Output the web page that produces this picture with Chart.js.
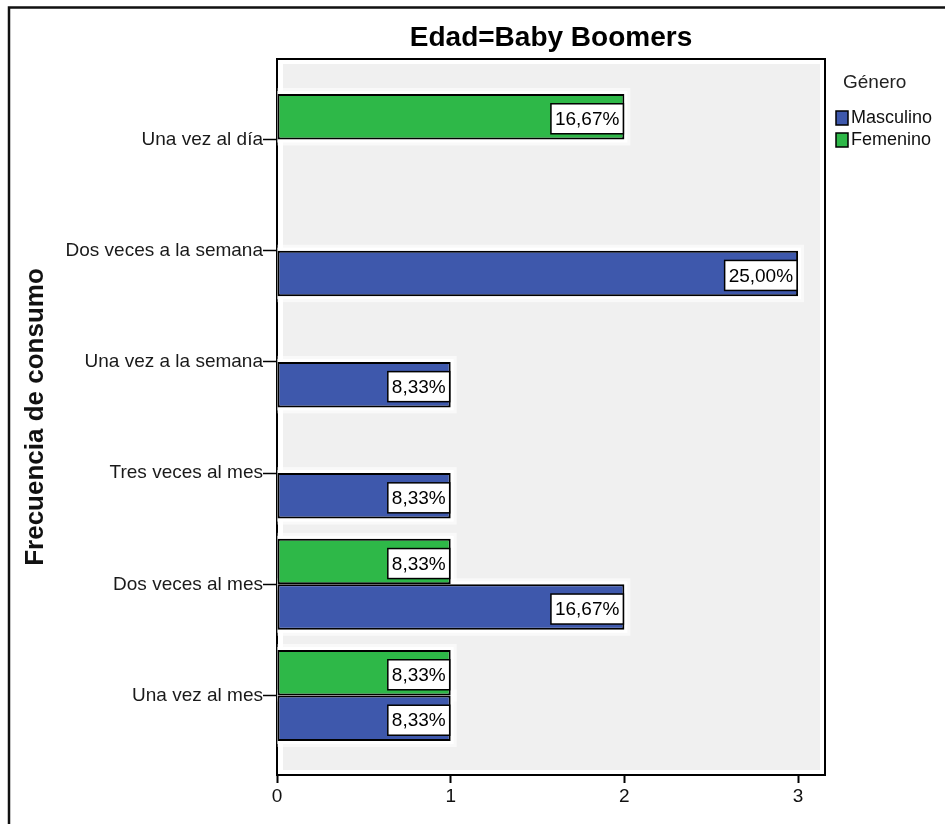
<!DOCTYPE html>
<html>
<head>
<meta charset="utf-8">
<title>Frecuencia de consumo - Baby Boomers</title>
<script src="https://cdn.jsdelivr.net/npm/chart.js@4.4.1/dist/chart.umd.min.js"></script>
<style>
  html, body { margin: 0; padding: 0; background: #fff; }
  #wrap { width: 945px; height: 824px; }
</style>
</head>
<body>
<div id="wrap"><canvas id="freqChart" width="945" height="824"></canvas></div>
<script>
  // categorias (de arriba hacia abajo)
  var categories = [
    "Una vez al día",
    "Dos veces a la semana",
    "Una vez a la semana",
    "Tres veces al mes",
    "Dos veces al mes",
    "Una vez al mes"
  ];
  // recuentos por genero
  var femenino = [2, 0, 0, 0, 1, 1];
  var masculino = [0, 3, 1, 1, 2, 1];
  var xTicks = [0, 1, 2, 3];

  var FONT = "'Liberation Sans', Arial, sans-serif";
  var AZUL = "#3E58AC";
  var VERDE = "#2EB848";

  var total = femenino.concat(masculino).reduce(function (a, b) { return a + b; }, 0);

  function pct(v) {
    return (v / total * 100).toFixed(2).replace(".", ",") + "%";
  }

  function toPoints(arr) {
    return arr.map(function (v, i) { return { x: v, y: i }; });
  }

  function eachBar(chart, fn) {
    chart.data.datasets.forEach(function (ds, di) {
      var meta = chart.getDatasetMeta(di);
      meta.data.forEach(function (el, i) {
        var v = ds.data[i].x;
        if (!v) return;
        fn(el.getProps(["x", "y", "base", "height"], true), v, ds);
      });
    });
  }

  // fondo gris, marco y halo blanco de las barras
  var panelPlugin = {
    id: "panel",
    beforeDraw: function (chart) {
      var ctx = chart.ctx, a = chart.chartArea;
      ctx.save();
      ctx.strokeStyle = "#111";
      ctx.lineWidth = 2.5;
      ctx.beginPath();
      ctx.moveTo(9, 824);
      ctx.lineTo(9, 7.5);
      ctx.lineTo(945, 7.5);
      ctx.stroke();
      ctx.fillStyle = "#f0f0f0";
      ctx.fillRect(a.left + 6, a.top + 5, a.width - 11, a.height - 10);
      ctx.restore();
    },
    beforeDatasetsDraw: function (chart) {
      var ctx = chart.ctx;
      ctx.save();
      eachBar(chart, function (b) {
        var top = b.y - b.height / 2;
        ctx.fillStyle = "rgba(255,255,255,0.6)";
        ctx.fillRect(b.base, top - 6, b.x - b.base + 6, b.height + 12);
        ctx.fillStyle = "#fff";
        ctx.fillRect(b.base, top - 3, b.x - b.base + 3, b.height + 6);
      });
      ctx.restore();
    },
    afterDatasetsDraw: function (chart) {
      var ctx = chart.ctx, a = chart.chartArea;
      ctx.save();
      // lados superior y derecho del panel
      ctx.strokeStyle = "#000";
      ctx.lineWidth = 2;
      ctx.beginPath();
      ctx.moveTo(a.left, a.top);
      ctx.lineTo(a.right, a.top);
      ctx.lineTo(a.right, a.bottom);
      ctx.stroke();

      // etiquetas de porcentaje
      ctx.font = "19px " + FONT;
      ctx.textAlign = "right";
      ctx.textBaseline = "middle";
      eachBar(chart, function (b, v) {
        var txt = pct(v);
        var w = ctx.measureText(txt).width + 8;
        var h = 30;
        var right = b.x - 1;
        var top = b.y - h / 2 + 2;
        ctx.fillStyle = "#fff";
        ctx.fillRect(right - w, top, w, h);
        ctx.strokeStyle = "#000";
        ctx.lineWidth = 1.5;
        ctx.strokeRect(right - w, top, w, h);
        ctx.fillStyle = "#000";
        ctx.fillText(txt, right - 4, top + h / 2 + 1);
      });
      ctx.restore();
    },
    afterDraw: function (chart) {
      // leyenda
      var ctx = chart.ctx;
      ctx.save();
      ctx.textBaseline = "middle";
      ctx.textAlign = "left";
      ctx.fillStyle = "#222";
      ctx.font = "19px " + FONT;
      ctx.fillText("Género", 843, 83);
      ctx.font = "18px " + FONT;
      var items = [
        { label: chart.data.datasets[1].label, color: chart.data.datasets[1].backgroundColor },
        { label: chart.data.datasets[0].label, color: chart.data.datasets[0].backgroundColor }
      ];
      items.forEach(function (it, i) {
        var y = 111 + i * 22;
        ctx.fillStyle = it.color;
        ctx.fillRect(836, y, 12, 14);
        ctx.strokeStyle = "#000";
        ctx.lineWidth = 1.5;
        ctx.strokeRect(836, y, 12, 14);
        ctx.fillStyle = "#111";
        ctx.fillText(it.label, 851, y + 7);
      });
      ctx.restore();
    }
  };

  Chart.defaults.font.family = FONT;

  var ctx = document.getElementById("freqChart").getContext("2d");
  var chart = new Chart(ctx, {
    type: "bar",
    data: {
      datasets: [
        {
          label: "Femenino",
          data: toPoints(femenino),
          backgroundColor: VERDE,
          borderColor: "#000",
          borderWidth: 2,
          borderSkipped: false
        },
        {
          label: "Masculino",
          data: toPoints(masculino),
          backgroundColor: AZUL,
          borderColor: "#000",
          borderWidth: 2,
          borderSkipped: false
        }
      ]
    },
    options: {
      indexAxis: "y",
      responsive: false,
      animation: false,
      datasets: { bar: { categoryPercentage: 0.818, barPercentage: 1 } },
      layout: { padding: { left: 14, right: 120, top: 0, bottom: 0 } },
      plugins: {
        legend: { display: false },
        tooltip: { enabled: false },
        title: {
          display: true,
          text: "Edad=Baby Boomers",
          fullSize: false,
          color: "#000",
          font: { size: 28, weight: "bold" },
          padding: { top: 21, bottom: 4.4 }
        }
      },
      scales: {
        x: {
          type: "linear",
          min: 0,
          max: 3.155,
          afterBuildTicks: function (s) {
            s.ticks = xTicks.map(function (v) { return { value: v }; });
          },
          afterFit: function (s) { s.height = 49; },
          grid: { drawOnChartArea: false, tickLength: 8, tickWidth: 2, tickColor: "#000" },
          border: { color: "#000", width: 2 },
          ticks: { color: "#111", font: { size: 19 }, padding: 2 }
        },
        y: {
          type: "linear",
          reverse: true,
          offset: false,
          min: -0.724,
          max: 5.715,
          afterBuildTicks: function (s) {
            s.ticks = categories.map(function (c, i) { return { value: i }; });
          },
          afterFit: function (s) { s.width = 263; },
          grid: { offset: false, drawOnChartArea: false, tickLength: 14, tickWidth: 1.5, tickColor: "#000" },
          border: { color: "#000", width: 2 },
          ticks: {
            color: "#1a1a1a",
            font: { size: 19 },
            padding: 0,
            autoSkip: false,
            callback: function (v) { return categories[v]; }
          },
          title: {
            display: true,
            text: "Frecuencia de consumo",
            color: "#111",
            font: { size: 26, weight: "bold" },
            padding: { top: 6, bottom: 0 }
          }
        }
      }
    },
    plugins: [panelPlugin]
  });
</script>
</body>
</html>
